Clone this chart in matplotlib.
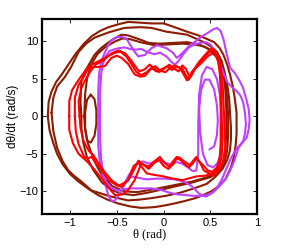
import matplotlib
matplotlib.use("Agg")
import matplotlib.pyplot as plt

# phase portrait traces, theta (rad) and dtheta/dt (rad/s)
brown_1_th = [-1.24, -1.23, -1.20, -1.15, -1.09, -1.02, -0.95, -0.86, -0.77, -0.68, -0.59, -0.48, -0.38, -0.25, -0.13, 0.00, 0.07, 0.14, 0.25, 0.35, 0.45, 0.54, 0.60, 0.64, 0.68, 0.71, 0.74, 0.76, 0.78, 0.78, 0.78, 0.77, 0.75, 0.72, 0.66, 0.58, 0.51, 0.42, 0.34, 0.22, 0.12, 0.00, -0.10, -0.24, -0.36, -0.49, -0.60, -0.70, -0.80, -0.91, -1.00, -1.08, -1.14, -1.18, -1.22, -1.24]
brown_1_om = [0.0, 2.0, 3.3, 4.6, 5.6, 6.9, 8.2, 9.6, 10.7, 11.4, 11.9, 12.3, 12.6, 12.5, 12.4, 12.4, 12.1, 11.8, 11.3, 10.9, 10.4, 9.9, 9.1, 8.2, 6.9, 5.6, 4.0, 2.5, 0.5, -1.0, -2.3, -3.9, -5.5, -6.8, -8.4, -9.4, -10.0, -10.5, -10.9, -11.3, -11.6, -11.9, -12.1, -12.2, -12.0, -11.6, -11.1, -10.5, -9.7, -8.7, -7.7, -6.4, -5.0, -3.6, -1.9, 0.0]

brown_2_th = [-1.20, -1.18, -1.14, -1.06, -0.99, -0.91, -0.83, -0.74, -0.59, -0.42, -0.25, -0.13, 0.03, 0.14, 0.25, 0.34, 0.43, 0.51, 0.57, 0.62, 0.65, 0.68, 0.70, 0.71, 0.72, 0.72, 0.71, 0.68, 0.63, 0.55, 0.46, 0.30, 0.17, 0.02, -0.13, -0.26, -0.38, -0.49, -0.59, -0.69, -0.77, -0.88, -0.96, -1.02, -1.08, -1.14, -1.18, -1.20]
brown_2_om = [0.5, 2.5, 4.0, 5.2, 6.6, 8.6, 9.7, 10.5, 11.2, 11.8, 11.9, 11.8, 11.3, 11.1, 10.9, 10.4, 9.9, 9.3, 8.6, 7.4, 6.0, 4.3, 2.5, 0.5, -1.5, -3.0, -4.5, -5.8, -7.0, -8.1, -9.0, -9.7, -10.2, -10.6, -10.9, -11.1, -11.2, -10.9, -10.6, -10.2, -9.9, -8.7, -7.9, -7.2, -6.0, -4.2, -2.0, 0.5]

brown_3_th = [-0.88, -0.89, -0.88, -0.84, -0.80, -0.74, -0.68, -0.63, -0.54, -0.45, -0.38, -0.31, -0.22, -0.16, -0.05, 0.10, 0.25, 0.38, 0.48, 0.56, 0.62, 0.66, 0.68, 0.69, 0.69, 0.68, 0.65, 0.59, 0.50, 0.39, 0.28, 0.17, 0.00, -0.18, -0.32, -0.45, -0.56, -0.66, -0.75, -0.82, -0.86, -0.88, -0.88]
brown_3_om = [0.0, 2.0, 4.7, 6.0, 6.9, 8.2, 9.0, 9.5, 10.3, 10.9, 10.8, 10.5, 10.1, 9.8, 9.7, 9.8, 9.9, 9.6, 9.0, 8.0, 6.6, 4.8, 2.5, 0.0, -2.5, -4.5, -6.2, -7.4, -8.1, -8.5, -8.9, -9.2, -9.7, -10.2, -10.5, -10.3, -9.8, -8.8, -7.2, -5.5, -3.5, -1.5, 0.0]

brown_4_th = [-0.85, -0.84, -0.82, -0.78, -0.71, -0.63, -0.52, -0.44, -0.36, -0.25, -0.10, 0.05, 0.20, 0.33, 0.44, 0.53, 0.60, 0.64, 0.66, 0.67, 0.67, 0.66, 0.63, 0.57, 0.47, 0.30, 0.10, -0.10, -0.28, -0.42, -0.55, -0.65, -0.72, -0.77, -0.81, -0.84, -0.85]
brown_4_om = [0.0, 3.0, 5.0, 6.8, 8.3, 9.2, 10.0, 10.4, 10.3, 9.9, 9.5, 9.6, 9.7, 9.6, 9.3, 8.6, 7.4, 5.8, 3.5, 1.0, -2.0, -4.5, -6.3, -7.4, -8.1, -8.7, -9.2, -9.7, -10.1, -10.0, -9.3, -8.0, -6.5, -5.0, -3.6, -1.8, 0.0]

brown_oval_th = [-0.78, -0.74, -0.72, -0.72, -0.74, -0.78, -0.82, -0.84, -0.84, -0.82, -0.78]
brown_oval_om = [2.9, 2.3, 0.8, -1.0, -2.6, -3.5, -3.2, -1.5, 0.5, 2.2, 2.9]

red_1_th = [-1.01, -1.01, -0.98, -0.93, -0.88, -0.82, -0.77, -0.69, -0.60, -0.52, -0.46, -0.40, -0.34, -0.29, -0.24, -0.18, -0.13, -0.08, -0.02, 0.04, 0.09, 0.14, 0.20, 0.24, 0.27, 0.30, 0.37, 0.43, 0.49, 0.54, 0.58, 0.61, 0.63, 0.64, 0.65, 0.66, 0.64, 0.59, 0.54, 0.47, 0.43, 0.39, 0.35, 0.31, 0.28, 0.22, 0.17, 0.14, 0.10, 0.06, 0.01, -0.04, -0.10, -0.16, -0.20, -0.24, -0.31, -0.38, -0.44, -0.52, -0.59, -0.66, -0.74, -0.82, -0.91, -0.97, -1.01, -1.01]
red_1_om = [0.0, 2.0, 3.5, 4.5, 5.4, 6.4, 6.9, 7.4, 8.0, 8.5, 8.6, 8.0, 6.9, 5.9, 5.5, 5.9, 6.5, 6.0, 6.3, 6.7, 6.2, 6.6, 6.4, 5.4, 4.9, 5.9, 6.9, 7.8, 8.6, 8.9, 8.2, 6.8, 4.5, 2.0, -1.0, -4.0, -6.0, -7.2, -7.9, -7.5, -7.2, -6.2, -5.4, -6.0, -6.5, -6.0, -5.5, -5.4, -6.0, -6.7, -6.2, -5.4, -6.0, -6.7, -6.5, -6.3, -8.5, -9.8, -10.4, -10.5, -9.5, -8.3, -7.1, -6.0, -5.0, -3.6, -1.8, 0.0]

red_2_th = [-0.95, -0.95, -0.91, -0.86, -0.81, -0.77, -0.70, -0.63, -0.56, -0.50, -0.45, -0.38, -0.31, -0.25, -0.20, -0.14, -0.09, -0.04, 0.02, 0.07, 0.12, 0.17, 0.21, 0.25, 0.29, 0.34, 0.41, 0.47, 0.52, 0.56, 0.59, 0.61, 0.62, 0.62, 0.63, 0.62, 0.59, 0.54, 0.45, 0.35, 0.20, 0.10, 0.00, -0.10, -0.18, -0.27, -0.32, -0.38, -0.45, -0.50, -0.59, -0.66, -0.73, -0.77, -0.81, -0.85, -0.91, -0.94, -0.95]
red_2_om = [0.0, 2.5, 4.2, 5.2, 6.3, 6.6, 6.6, 6.7, 7.8, 8.1, 7.8, 7.0, 5.6, 5.3, 5.4, 6.3, 6.7, 6.1, 5.9, 6.5, 6.8, 6.5, 5.7, 4.8, 5.3, 6.4, 7.2, 8.0, 8.4, 8.2, 7.0, 5.0, 2.5, 0.0, -3.0, -5.5, -6.8, -7.5, -7.9, -8.0, -8.5, -8.3, -8.0, -7.8, -7.6, -6.2, -6.6, -8.5, -9.4, -9.2, -8.5, -7.2, -6.2, -5.4, -5.6, -5.4, -3.7, -2.0, 0.0]

red_3_th = [-0.90, -0.91, -0.88, -0.84, -0.79, -0.73, -0.64, -0.56, -0.48, -0.41, -0.35, -0.30, -0.26, -0.20, -0.15, -0.10, -0.05, 0.00, 0.06, 0.12, 0.16, 0.20, 0.24, 0.28, 0.32, 0.38, 0.45, 0.51, 0.55, 0.58, 0.60, 0.61, 0.61, 0.61, 0.60, 0.57, 0.52, 0.47, 0.43, 0.38, 0.35, 0.31, 0.27, 0.22, 0.18, 0.14, 0.10, 0.05, 0.00, -0.05, -0.10, -0.16, -0.22, -0.27, -0.32, -0.38, -0.44, -0.48, -0.55, -0.62, -0.69, -0.75, -0.80, -0.86, -0.89, -0.90]
red_3_om = [0.0, 2.0, 3.8, 4.8, 5.9, 6.9, 7.5, 8.4, 8.8, 8.4, 7.5, 6.6, 6.0, 6.3, 6.9, 6.4, 5.9, 6.3, 6.9, 6.3, 6.0, 6.8, 6.3, 5.2, 6.2, 7.3, 8.3, 9.1, 8.6, 7.6, 6.0, 3.5, 0.0, -3.5, -5.5, -6.8, -7.4, -7.2, -6.6, -6.0, -5.6, -6.3, -6.8, -6.3, -5.8, -5.6, -6.4, -7.0, -6.6, -5.8, -6.2, -7.0, -6.4, -5.9, -7.2, -8.5, -9.0, -9.2, -8.6, -7.6, -6.4, -5.2, -4.6, -3.2, -1.5, 0.0]

purple_1_th = [-0.70, -0.70, -0.69, -0.67, -0.64, -0.59, -0.54, -0.50, -0.45, -0.40, -0.36, -0.31, -0.27, -0.20, -0.13, -0.07, 0.03, 0.10, 0.14, 0.18, 0.22, 0.28, 0.34, 0.39, 0.44, 0.48, 0.53, 0.57, 0.61, 0.64, 0.67, 0.71, 0.76, 0.81, 0.85, 0.88, 0.91, 0.92, 0.91, 0.89, 0.85, 0.80, 0.76, 0.72, 0.68, 0.64, 0.59, 0.54, 0.48, 0.41, 0.33, 0.24, 0.15, 0.07, -0.03, -0.13, -0.25, -0.35, -0.43, -0.50, -0.56, -0.61, -0.65, -0.68, -0.70, -0.70]
purple_1_om = [0.0, 3.5, 5.8, 7.2, 8.2, 9.6, 10.3, 10.6, 10.6, 10.4, 9.6, 8.6, 8.0, 8.2, 9.1, 9.5, 9.1, 8.5, 7.8, 8.2, 8.7, 9.5, 10.0, 10.5, 10.9, 11.2, 11.6, 11.8, 11.4, 10.3, 8.6, 6.5, 5.8, 4.8, 3.8, 2.5, 1.0, -0.5, -1.7, -2.8, -3.4, -4.2, -5.8, -7.0, -8.0, -8.7, -9.4, -10.0, -10.4, -10.6, -10.6, -10.5, -10.4, -10.2, -9.8, -9.6, -9.6, -9.6, -9.7, -9.9, -9.5, -8.8, -7.8, -6.3, -4.0, 0.0]

purple_2_th = [-0.68, -0.68, -0.67, -0.65, -0.62, -0.58, -0.54, -0.48, -0.42, -0.36, -0.30, -0.24, -0.18, -0.10, -0.04, 0.03, 0.08, 0.12, 0.16, 0.21, 0.27, 0.33, 0.39, 0.45, 0.50, 0.55, 0.60, 0.64, 0.68, 0.73, 0.78, 0.82, 0.85, 0.87, 0.88, 0.87, 0.85, 0.81, 0.77, 0.72, 0.67, 0.62, 0.57, 0.52, 0.45, 0.38, 0.30, 0.22, 0.12, 0.02, -0.08, -0.18, -0.27, -0.34, -0.40, -0.45, -0.50, -0.53, -0.56, -0.59, -0.62, -0.65, -0.67, -0.68, -0.68]
purple_2_om = [0.0, 3.0, 5.5, 7.0, 8.0, 8.7, 8.9, 9.1, 9.2, 9.0, 8.9, 9.0, 8.6, 8.3, 8.5, 8.0, 7.3, 6.9, 7.4, 8.3, 9.2, 9.6, 9.8, 9.9, 9.6, 8.7, 7.2, 5.8, 4.6, 3.9, 3.4, 2.8, 1.9, 0.5, -1.0, -2.3, -3.3, -3.9, -4.5, -5.6, -7.0, -8.5, -9.5, -10.2, -10.7, -10.3, -9.3, -8.7, -8.4, -8.3, -8.3, -8.4, -8.2, -8.0, -8.6, -9.8, -10.9, -11.3, -11.2, -10.6, -9.3, -7.5, -5.5, -3.0, 0.0]

purple_3_th = [-0.43, -0.38, -0.33, -0.28, -0.22, -0.16, -0.10, -0.04, 0.02, 0.08, 0.14, 0.20, 0.26, 0.31, 0.35, 0.37, 0.37, 0.38, 0.41, 0.46, 0.52, 0.57, 0.60, 0.62, 0.62, 0.61, 0.58, 0.53, 0.47, 0.42, 0.39, 0.38, 0.40, 0.44, 0.49, 0.54, 0.57, 0.58, 0.57, 0.54, 0.49]
purple_3_om = [-9.3, -8.0, -7.0, -6.2, -6.0, -6.3, -6.1, -5.8, -6.2, -6.4, -6.1, -6.3, -6.8, -7.3, -7.2, -5.0, -1.0, 3.0, 5.5, 6.6, 6.3, 5.0, 3.0, 0.0, -3.0, -5.0, -6.2, -6.8, -6.5, -5.0, -2.0, 1.0, 3.5, 4.9, 4.9, 3.6, 1.5, -0.5, -2.5, -4.0, -4.4]

brown = '#8c1c00'
red = '#ff0000'
purple = '#bf40ff'

traces = [
    (brown_1_th, brown_1_om, brown),
    (brown_2_th, brown_2_om, brown),
    (brown_3_th, brown_3_om, brown),
    (brown_4_th, brown_4_om, brown),
    (brown_oval_th, brown_oval_om, brown),
    (purple_1_th, purple_1_om, purple),
    (purple_2_th, purple_2_om, purple),
    (purple_3_th, purple_3_om, purple),
    (red_1_th, red_1_om, red),
    (red_2_th, red_2_om, red),
    (red_3_th, red_3_om, red),
]

fig = plt.figure(figsize=(2.81, 2.49), dpi=100)
ax = fig.add_axes([0.150, 0.141, 0.765, 0.783])

for th, om, c in traces:
    ax.plot(th, om, color=c, lw=1.5, solid_joinstyle='round', solid_capstyle='round')

ax.set_xlim(-1.3, 1.0)
ax.set_ylim(-13, 13)
ax.set_xticks([-1, -0.5, 0, 0.5, 1])
ax.set_xticklabels(['\u22121', '\u22120.5', '0', '0.5', '1'])
ax.set_yticks([-10, -5, 0, 5, 10])
ax.set_yticklabels(['\u221210', '\u22125', '0', '5', '10'])
ax.tick_params(direction='in', length=3, width=0.6, top=True, right=True,
               labelsize=8, pad=3)
for lab in ax.get_xticklabels() + ax.get_yticklabels():
    lab.set_family('Liberation Sans')
for s in ax.spines.values():
    s.set_linewidth(1.6)

ax.set_xlabel('\u03b8 (rad)', family='Liberation Serif', fontsize=9, labelpad=0)
ax.set_ylabel('d\u03b8/dt (rad/s)', family='Liberation Sans', fontsize=8.5, labelpad=0)

fig.savefig('out.png', dpi=100)
